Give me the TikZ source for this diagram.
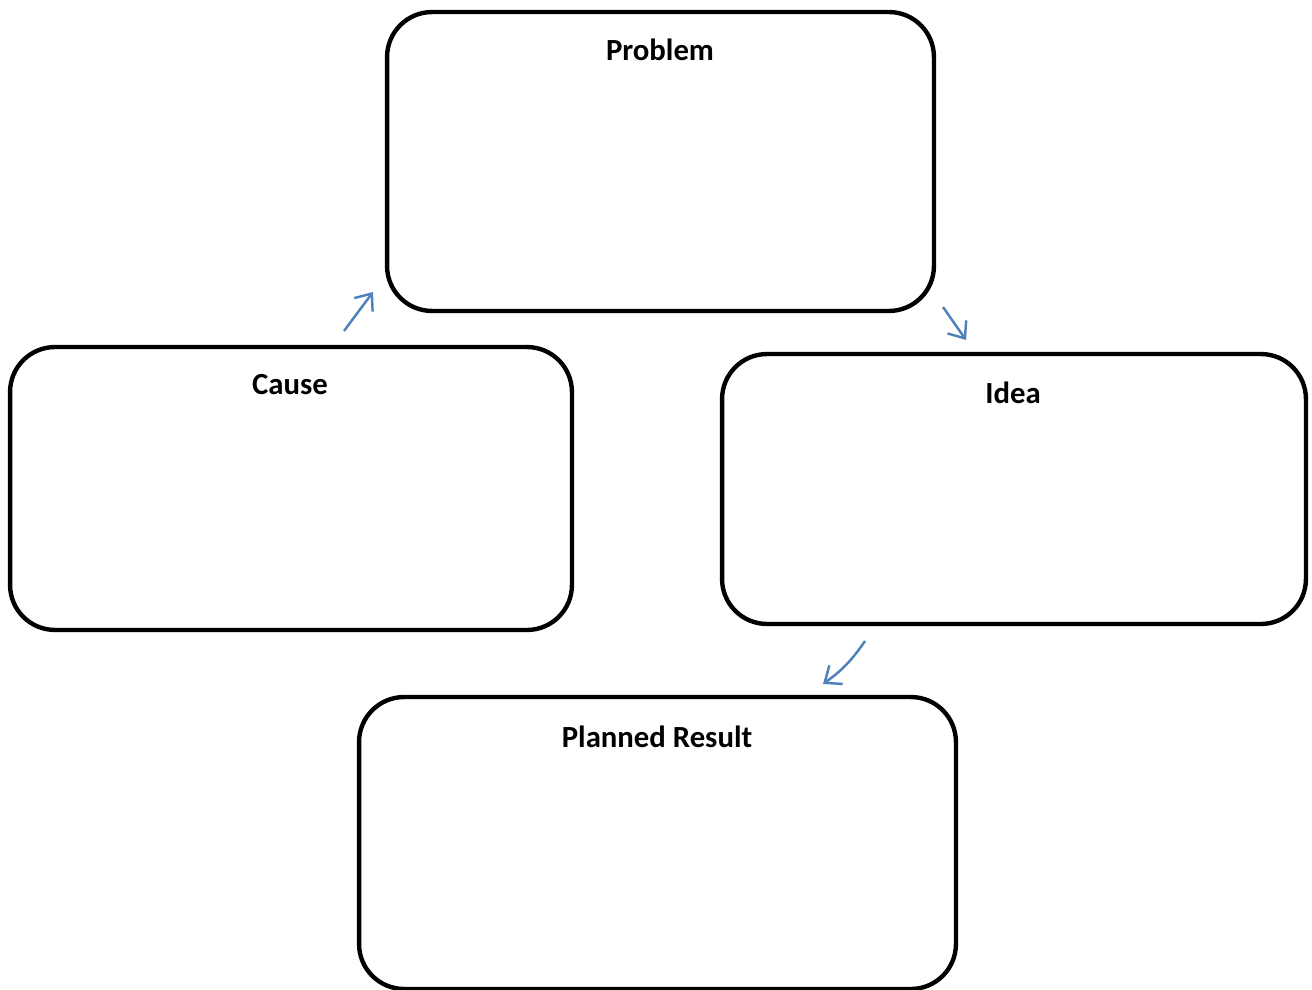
\documentclass[tikz,border=0pt]{standalone}
\usepackage{fontspec}
\setmainfont{Carlito}
\usetikzlibrary{arrows.meta}

\tikzset{
  box/.style={draw, line width=2.5pt, rounded corners=0.9cm},
  title/.style={font=\fontsize{17.5}{21}\selectfont\bfseries},
  flow/.style={draw=flowblue, line width=1.4pt, -{Straight Barb[length=8pt,width=13pt]}}
}
\definecolor{flowblue}{HTML}{4F81BD}

\begin{document}
\begin{tikzpicture}[x=0.02cm, y=-0.02cm]
  \useasboundingbox (0,0) rectangle (1312,990);

  % boxes
  \node[box, minimum width=10.94cm, minimum height=5.98cm] (problem) at (660.5,161.5) {};
  \node[box, minimum width=11.24cm, minimum height=5.66cm] (cause) at (291,488.5) {};
  \node[box, minimum width=11.68cm, minimum height=5.40cm] (idea) at (1014,489) {};
  \node[box, minimum width=11.94cm, minimum height=5.84cm] (result) at (657.5,843) {};

  % titles
  \node[title] (problemtitle) at (660,50) {Problem};
  \node[title] (causetitle) at (290,385) {Cause};
  \node[title] (ideatitle) at (1013,393) {Idea};
  \node[title] (resulttitle) at (657,737) {Planned Result};

  % arrows
  \coordinate (a1) at (344,331);
  \coordinate (b1) at (373,292);
  \coordinate (a2) at (943,307);
  \coordinate (b2) at (966,340);
  \coordinate (a3) at (865,641);
  \coordinate (b3) at (823,684);
  \draw[flow] (a1) -- (b1);
  \draw[flow] (a2) -- (b2);
  \draw[flow] (a3) to[bend left=10] (b3);
\end{tikzpicture}
\end{document}
